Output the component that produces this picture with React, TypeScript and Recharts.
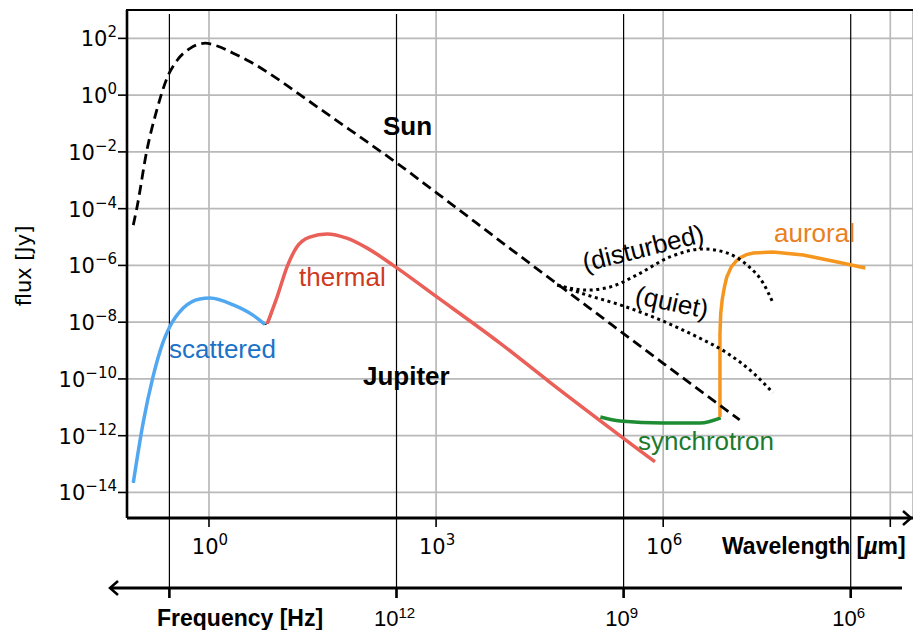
import React from "react";
import { ComposedChart, Line, XAxis, YAxis, CartesianGrid, ReferenceLine } from "recharts";

// All values are log10 of wavelength [µm] and log10 of flux [Jy].
const sunLogWl = [-1.0, -0.95, -0.82, -0.69, -0.55, -0.42, -0.25, -0.05, 0.1, 0.32, 0.55, 0.77, 1.0, 1.2, 1.64, 2.09, 2.48, 3.01, 4.0, 5.0, 6.0, 7.01];
const sunLogFlux = [-4.58, -3.94, -1.94, -0.53, 0.63, 1.23, 1.65, 1.83, 1.74, 1.48, 1.17, 0.81, 0.4, 0.02, -0.81, -1.65, -2.39, -3.45, -5.45, -7.45, -9.45, -11.44];

const scatLogWl = [-1.0, -0.87, -0.74, -0.61, -0.52, -0.34, -0.12, 0.01, 0.32, 0.58, 0.74];
const scatLogFlux = [-13.66, -11.55, -9.93, -8.73, -8.17, -7.5, -7.18, -7.15, -7.39, -7.75, -8.08];

const thermLogWl = [0.77, 0.9, 1.03, 1.16, 1.33, 1.56, 1.82, 2.09, 2.43, 3.01, 3.84, 4.5, 5.89];
const thermLogFlux = [-8.05, -7.11, -6.06, -5.35, -5.0, -4.89, -5.04, -5.39, -5.99, -7.11, -8.73, -10.11, -12.92];

const syncLogWl = [5.17, 5.43, 6.0, 6.49, 6.76];
const syncLogFlux = [-11.34, -11.48, -11.55, -11.55, -11.37];

const auroLogWl = [6.75, 6.75, 6.76, 6.78, 6.81, 6.84, 6.9, 6.96, 7.01, 7.1, 7.19, 7.45, 7.85, 8.3, 8.67];
const auroLogFlux = [-11.34, -8.4, -7.7, -7.2, -6.75, -6.41, -6.05, -5.86, -5.74, -5.62, -5.56, -5.53, -5.63, -5.88, -6.09];

const distLogWl = [4.6, 4.99, 5.3, 5.65, 6.09, 6.53, 6.84, 7.11, 7.32, 7.45];
const distLogFlux = [-6.69, -6.87, -6.76, -6.34, -5.7, -5.42, -5.56, -5.99, -6.62, -7.32];

const quietLogWl = [4.6, 4.99, 5.43, 5.96, 6.45, 6.84, 7.19, 7.45];
const quietLogFlux = [-6.69, -7.04, -7.39, -7.92, -8.52, -9.08, -9.79, -10.49];

// axis ticks
const wlTickExp = [0, 3, 6, 9];
const fluxTickExp = [-14, -12, -10, -8, -6, -4, -2, 0, 2];
const freqHz = [1e15, 1e12, 1e9, 1e6];
const freqLabelExp = ["", "12", "9", "6"];
const LIGHT_SPEED_UM = 3e14; // µm / s

const pow = (v: number) => Math.pow(10, v);
const toData = (xs: number[], ys: number[]) => xs.map((x, i) => ({ wl: pow(x), flux: pow(ys[i]) }));

const sunData = toData(sunLogWl, sunLogFlux);
const scatData = toData(scatLogWl, scatLogFlux);
const thermData = toData(thermLogWl, thermLogFlux);
const totalData = [...scatData, ...thermData];
const syncData = toData(syncLogWl, syncLogFlux);
const auroData = toData(auroLogWl, auroLogFlux);
const distData = toData(distLogWl, distLogFlux);
const quietData = toData(quietLogWl, quietLogFlux);

const DV = "DejaVu Sans";
const HV = "Liberation Sans, Arial, Helvetica, sans-serif";

const expText = (e: number) => (e < 0 ? "\u2212" + -e : String(e));

const YTick = (props: any) => {
  const { y, payload } = props;
  const e = Math.round(Math.log10(payload.value));
  return (
    <text x={117} y={y + 8} textAnchor="end" fontFamily={DV} fontSize={21} fill="#000">
      10
      <tspan dy={-9} fontSize={15}>{expText(e)}</tspan>
    </text>
  );
};

const XTick = (props: any) => {
  const { x, payload } = props;
  const e = Math.round(Math.log10(payload.value));
  if (e === 9) return <g />;
  return (
    <text x={x + 1} y={554} textAnchor="middle" fontFamily={DV} fontSize={21} fill="#000">
      10
      <tspan dy={-9} fontSize={15}>{expText(e)}</tspan>
    </text>
  );
};

const FreqShape = (props: any) => {
  const { x1, y1, y2, label } = props;
  const top = Math.min(y1, y2);
  return (
    <g>
      <line x1={x1} y1={top + 4} x2={x1} y2={598} stroke="#000" strokeWidth={1.2} />
      <line x1={x1} y1={588} x2={x1} y2={598} stroke="#000" strokeWidth={2.6} />
      {label ? (
        <text x={x1 - 2} y={626} textAnchor="middle" fontFamily={HV} fontSize={22} fill="#000">
          10
          <tspan dy={-8} fontSize={15}>{label}</tspan>
        </text>
      ) : null}
    </g>
  );
};

export default function App() {
  return (
    <div style={{ position: "absolute", left: 0, top: 0, width: 913, height: 630, background: "#fff" }}>
      <ComposedChart width={913} height={630} margin={{ top: 10, right: 0, bottom: 0, left: 0 }}>
        <CartesianGrid stroke="#b9b9b9" strokeWidth={1.7} />
        <XAxis
          type="number"
          dataKey="wl"
          scale="log"
          domain={[pow(-1.083), pow(9.3)]}
          allowDataOverflow
          ticks={wlTickExp.map(pow)}
          interval={0}
          tick={<XTick />}
          tickSize={9}
          tickLine={{ stroke: "#000", strokeWidth: 1.6 }}
          axisLine={{ stroke: "#000", strokeWidth: 3 }}
          height={112}
        />
        <YAxis
          type="number"
          dataKey="flux"
          scale="log"
          domain={[pow(-14.9), pow(3.0)]}
          allowDataOverflow
          ticks={fluxTickExp.map(pow)}
          interval={0}
          tick={<YTick />}
          tickSize={9}
          tickLine={{ stroke: "#000", strokeWidth: 1.6 }}
          axisLine={{ stroke: "#000", strokeWidth: 2.6 }}
          width={127}
        />
        {freqHz.map((f, i) => (
          <ReferenceLine
            key={f}
            x={LIGHT_SPEED_UM / f}
            stroke="#000"
            shape={(p: any) => <FreqShape {...p} label={freqLabelExp[i]} />}
          />
        ))}
        <Line data={totalData} dataKey="flux" type="monotone" stroke="#000" strokeWidth={1} dot={false} isAnimationActive={false} />
        <Line data={scatData} dataKey="flux" type="monotone" stroke="#52a8f0" strokeWidth={3.5} dot={false} isAnimationActive={false} />
        <Line data={thermData} dataKey="flux" type="monotone" stroke="#ea5f58" strokeWidth={3.5} dot={false} isAnimationActive={false} />
        <Line data={syncData} dataKey="flux" type="monotone" stroke="#1e8c32" strokeWidth={3.5} dot={false} isAnimationActive={false} />
        <Line data={auroData} dataKey="flux" type="linear" stroke="#f5961e" strokeWidth={3.5} dot={false} isAnimationActive={false} />
        <Line data={sunData} dataKey="flux" type="monotone" stroke="#000" strokeWidth={2.8} strokeDasharray="10 5.5" dot={false} isAnimationActive={false} />
        <Line data={distData} dataKey="flux" type="monotone" stroke="#000" strokeWidth={3} strokeDasharray="3 3.6" dot={false} isAnimationActive={false} />
        <Line data={quietData} dataKey="flux" type="monotone" stroke="#000" strokeWidth={3} strokeDasharray="3 3.6" dot={false} isAnimationActive={false} />
      </ComposedChart>
      <svg width={913} height={630} style={{ position: "absolute", left: 0, top: 0, pointerEvents: "none" }}>
        <line x1={126} y1={10} x2={913} y2={10} stroke="#000" strokeWidth={2.2} />
        <polyline points="903,511 911,518 903,525" fill="none" stroke="#000" strokeWidth={2.5} />
        <line x1={110} y1={588} x2={902} y2={588} stroke="#000" strokeWidth={3} />
        <polyline points="118,581 110,588 118,595" fill="none" stroke="#000" strokeWidth={2.5} />
        <text x={24} y={266} transform="rotate(-90 24 266)" textAnchor="middle" dominantBaseline="central" fontFamily={DV} fontSize={21} fill="#000">
          flux [Jy]
        </text>
        <text x={383} y={135} fontFamily={HV} fontWeight="bold" fontSize={26} fill="#000">Sun</text>
        <text x={363} y={385} fontFamily={HV} fontWeight="bold" fontSize={26} fill="#000">Jupiter</text>
        <text x={299} y={286} fontFamily={HV} fontSize={26} fill="#cf3a1f">thermal</text>
        <text x={169} y={358} fontFamily={HV} fontSize={26} fill="#1b72c8">scattered</text>
        <text x={638} y={450} fontFamily={HV} fontSize={26} fill="#1c7a2c">synchrotron</text>
        <text x={774} y={242} fontFamily={HV} fontSize={26} fill="#e8801e">auroral</text>
        <text x={643} y={248} transform="rotate(-14 643 248)" textAnchor="middle" dominantBaseline="central" fontFamily={HV} fontSize={26} fill="#000">(disturbed)</text>
        <text x={672} y={302} transform="rotate(12 672 302)" textAnchor="middle" dominantBaseline="central" fontFamily={HV} fontSize={26} fill="#000">(quiet)</text>
        <text x={157} y={626} fontFamily={HV} fontWeight="bold" fontSize={23} fill="#000">Frequency [Hz]</text>
        <text x={722} y={554} fontFamily={HV} fontWeight="bold" fontSize={23} fill="#000">
          Wavelength [<tspan fontStyle="italic">µ</tspan>m]
        </text>
      </svg>
    </div>
  );
}
